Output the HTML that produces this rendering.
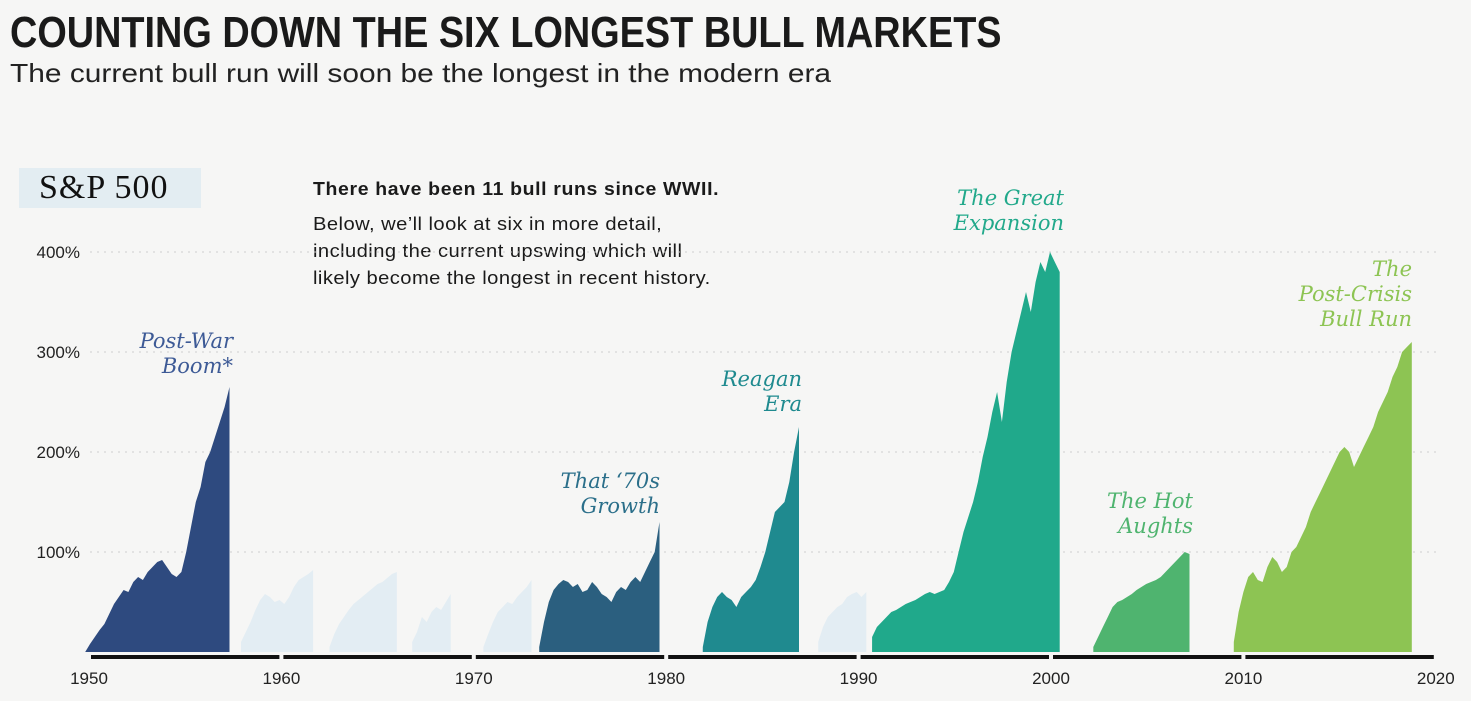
<!DOCTYPE html>
<html><head><meta charset="utf-8"><style>
body{margin:0;width:1471px;height:701px;background:#f6f6f5;overflow:hidden;font-family:"Liberation Sans",sans-serif;position:relative}
.abs{position:absolute;margin:0}
</style></head><body>
<h1 class="abs" style="left:10px;top:8px;font-family:'Liberation Sans Narrow','Liberation Sans',sans-serif;font-weight:bold;font-size:44px;color:#1a1a1a;white-space:nowrap;transform:scaleX(0.86);transform-origin:left">COUNTING DOWN THE SIX LONGEST BULL MARKETS</h1>
<div class="abs" style="left:10px;top:58px;font-size:26px;color:#222;white-space:nowrap;transform:scaleX(1.15);transform-origin:left">The current bull run will soon be the longest in the modern era</div>
<div class="abs" style="left:19px;top:168px;width:182px;height:40px;background:#e3edf2;font-family:'Liberation Serif',serif;font-size:34px;letter-spacing:1px;color:#111;line-height:40px;text-indent:20px">S&amp;P 500</div>
<div class="abs" style="left:313px;top:179px;font-size:18px;letter-spacing:0.6px;font-weight:bold;color:#1a1a1a;white-space:nowrap;transform:scaleX(1.08);transform-origin:left">There have been 11 bull runs since WWII.</div>
<div class="abs" style="left:313px;top:210px;font-size:18.5px;letter-spacing:0.4px;line-height:27px;color:#1a1a1a;white-space:nowrap;transform:scaleX(1.09);transform-origin:left">Below, we’ll look at six in more detail,<br>including the current upswing which will<br>likely become the longest in recent history.</div>
<svg id="chart" class="abs" style="left:0;top:0" width="1471" height="701"></svg>
<script>
const yTicks=[100,200,300,400];
const xTicks=[1950,1960,1970,1980,1990,2000,2010,2020];
const runStarts=[1949.8,1957.9,1962.5,1966.8,1970.5,1973.4,1981.9,1987.9,1990.7,2002.2,2009.5];
const runNames=["post-war-boom","minor-run-1958","minor-run-1962","minor-run-1966","minor-run-1970","seventies-growth","reagan-era","minor-run-1988","great-expansion","hot-aughts","post-crisis-bull-run"];
const runColors=["#2e4a7f","#e3edf3","#e3edf3","#e3edf3","#e3edf3","#2b5f7f","#1f8a8f","#e3edf3","#20a98b","#4fb46f","#8dc453"];
const postWar=[0,8,15,22,28,38,48,55,62,60,70,75,72,80,85,90,92,85,78,75,80,100,125,150,165,190,200,215,230,245,265];
const minor1958=[10,20,30,42,52,58,55,50,52,48,55,65,72,75,78,82];
const minor1962=[5,18,28,35,42,48,52,56,60,64,68,70,74,78,80];
const minor1966=[10,20,35,30,40,45,42,50,58];
const minor1970=[5,18,30,40,45,50,48,55,60,65,72];
const seventies=[5,30,50,62,68,72,70,65,68,60,62,70,65,58,55,50,60,65,62,70,75,70,80,90,100,130];
const reagan=[5,30,45,55,60,55,52,45,55,60,65,72,85,100,120,140,145,150,170,200,225];
const minor1988=[10,25,35,40,45,48,55,58,60,55,60];
const greatExp=[15,25,30,35,40,42,45,48,50,52,55,58,60,58,60,62,70,80,100,120,135,150,170,195,215,240,260,230,270,300,320,340,360,340,370,390,380,400,390,380];
const hotAughts=[5,15,25,35,45,50,52,55,58,62,65,68,70,72,75,80,85,90,95,100,98];
const postCrisis=[10,40,60,75,80,72,70,85,95,90,80,85,100,105,115,125,140,150,160,170,180,190,200,205,200,185,195,205,215,225,240,250,260,275,285,300,305,310];
const runValues=[postWar,minor1958,minor1962,minor1966,minor1970,seventies,reagan,minor1988,greatExp,hotAughts,postCrisis];
const STEP=0.25;
const x=y=>89+(y-1950)*19.24;
const yv=v=>652-v*1.0;
const svg=document.getElementById('chart');
const NS='http://www.w3.org/2000/svg';
function mk(t,a){const e=document.createElementNS(NS,t);for(const k in a)e.setAttribute(k,a[k]);svg.appendChild(e);return e;}
yTicks.forEach(t=>{
  const l=mk('line',{x1:90,x2:1440,y1:yv(t),y2:yv(t),stroke:'#cfcfcf','stroke-dasharray':'2 5','stroke-width':1});
  
  
  const tx=mk('text',{x:80,y:yv(t)+6,'text-anchor':'end','font-size':17,'font-family':'Liberation Sans Narrow, Liberation Sans, sans-serif',fill:'#222'});
  tx.textContent=t+'%';
  
  
});
runValues.forEach((vals,i)=>{
  const s=runStarts[i];
  let d='M'+x(s)+','+yv(0);
  vals.forEach((v,j)=>{d+=' L'+x(s+j*STEP).toFixed(1)+','+yv(v).toFixed(1);});
  d+=' L'+x(s+(vals.length-1)*STEP).toFixed(1)+','+yv(0)+' Z';
  const p=mk('path',{d:d,fill:runColors[i]});
  
  
});
for(let i=0;i<xTicks.length-1;i++){
  const r=mk('rect',{x:x(xTicks[i])+2,y:655,width:x(xTicks[i+1])-x(xTicks[i])-4,height:4,fill:'#111'});
  
  
}
xTicks.forEach(t=>{
  const tx=mk('text',{x:x(t),y:684,'text-anchor':'middle','font-size':17,'font-family':'Liberation Sans Narrow, Liberation Sans, sans-serif',fill:'#222'});
  tx.textContent=t;
  
  
});
const labels=[
 [["Post-War","Boom*"],233,348,"#3d5a96","label-post-war-boom"],
 [["That ‘70s","Growth"],660,488,"#2b6f8a","label-seventies-growth"],
 [["Reagan","Era"],802,386,"#1f8a8f","label-reagan-era"],
 [["The Great","Expansion"],1064,205,"#22a98b","label-great-expansion"],
 [["The Hot","Aughts"],1193,508,"#4fb46f","label-hot-aughts"],
 [["The","Post-Crisis","Bull Run"],1412,276,"#8dc453","label-post-crisis"]];
labels.forEach(l=>{
  const tx=mk('text',{x:l[1],y:l[2],'text-anchor':'end','font-size':21,'font-style':'italic','font-family':'DejaVu Serif, Liberation Serif, serif',fill:l[3]});
  
  
  l[0].forEach((s,k)=>{const ts=document.createElementNS(NS,'tspan');ts.setAttribute('x',l[1]);ts.setAttribute('dy',k?25:0);ts.textContent=s;tx.appendChild(ts);});
});
</script>
</body></html>
